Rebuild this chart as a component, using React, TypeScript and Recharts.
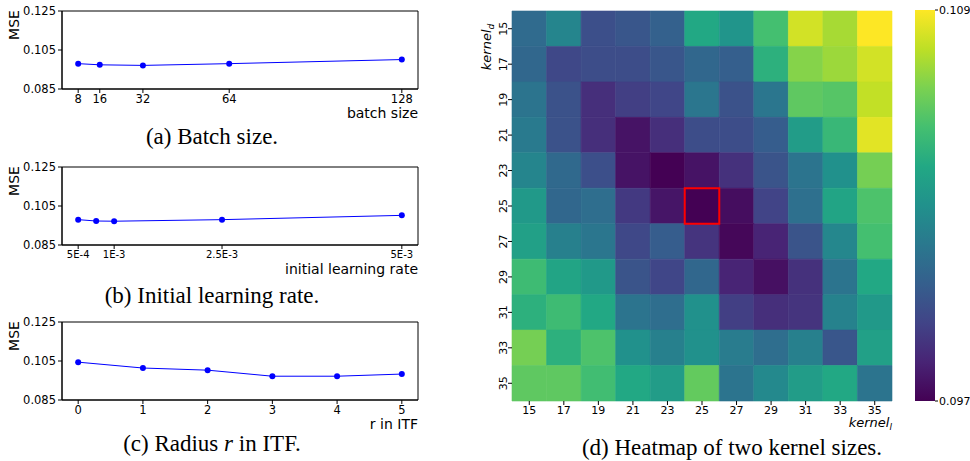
import React from 'react';
import {
  LineChart,
  Line,
  XAxis,
  YAxis,
  ReferenceArea,
  ScatterChart,
  Scatter,
  BarChart,
  Bar,
} from 'recharts';

const FONT = 'DejaVu Sans';
const SERIF = "'Liberation Serif', 'Times New Roman', serif";

// (a) batch size
const batchSizes = [8, 16, 32, 64, 128];
const batchMse = [0.098, 0.0974, 0.0971, 0.098, 0.1001];
// (b) initial learning rate
const learningRates = [0.0005, 0.00075, 0.001, 0.0025, 0.005];
const lrMse = [0.098, 0.0973, 0.0972, 0.098, 0.1002];
const lrTicks = [0.0005, 0.001, 0.0025, 0.005];
const lrTickLabels = ['5E-4', '1E-3', '2.5E-3', '5E-3'];
// (c) radius r in ITF
const radii = [0, 1, 2, 3, 4, 5];
const radiusMse = [0.1044, 0.1014, 0.1003, 0.0972, 0.0972, 0.0983];

const mseTicks = [0.085, 0.105, 0.125];

// (d) heatmap, rows = kernel_d, cols = kernel_l
const kernelD = [15, 17, 19, 21, 23, 25, 27, 29, 31, 33, 35];
const kernelL = [15, 17, 19, 21, 23, 25, 27, 29, 31, 33, 35];
const heatmapMse = [
  [0.1012, 0.1024, 0.0999, 0.1002, 0.1007, 0.1042, 0.1032, 0.1054, 0.1082, 0.1074, 0.109],
  [0.101, 0.0996, 0.0998, 0.0998, 0.1002, 0.101, 0.1006, 0.1046, 0.1068, 0.1072, 0.1082],
  [0.1016, 0.1, 0.0986, 0.0992, 0.0995, 0.1017, 0.1, 0.1017, 0.106, 0.1058, 0.1079],
  [0.1019, 0.1, 0.0986, 0.0976, 0.0986, 0.0998, 0.0998, 0.1005, 0.1036, 0.105, 0.1085],
  [0.1024, 0.1011, 0.0999, 0.0976, 0.097, 0.0976, 0.0987, 0.1001, 0.1016, 0.103, 0.1065],
  [0.1034, 0.101, 0.1013, 0.099, 0.0977, 0.097, 0.0974, 0.0994, 0.1014, 0.104, 0.1056],
  [0.1038, 0.1022, 0.1017, 0.0996, 0.1005, 0.0988, 0.0972, 0.0982, 0.1001, 0.1025, 0.1054],
  [0.1052, 0.104, 0.1034, 0.1001, 0.0995, 0.101, 0.0982, 0.0975, 0.0987, 0.1016, 0.1042],
  [0.1046, 0.1052, 0.1042, 0.1016, 0.1013, 0.103, 0.0992, 0.0986, 0.0988, 0.1023, 0.1034],
  [0.1065, 0.1046, 0.1056, 0.103, 0.1022, 0.103, 0.102, 0.1013, 0.1022, 0.1002, 0.1038],
  [0.106, 0.106, 0.1053, 0.1042, 0.1036, 0.1061, 0.1016, 0.1026, 0.1036, 0.1042, 0.1016],
];
const colorTicks = [0.097, 0.109];
const best = { d: 25, l: 25 };

const viridis = [
  '#440154', '#482475', '#414487', '#355f8d', '#2a788e', '#21918c',
  '#22a884', '#44bf70', '#7ad151', '#bddf26', '#fde725',
];

const hexToRgb = (h: string) => [1, 3, 5].map((i) => parseInt(h.slice(i, i + 2), 16));

const colorFor = (v: number) => {
  const t = Math.max(0, Math.min(1, (v - colorTicks[0]) / (colorTicks[1] - colorTicks[0])));
  const pos = t * (viridis.length - 1);
  const i = Math.min(Math.floor(pos), viridis.length - 2);
  const f = pos - i;
  const a = hexToRgb(viridis[i]);
  const b = hexToRgb(viridis[i + 1]);
  const c = a.map((x, k) => Math.round(x + (b[k] - x) * f));
  return `rgb(${c[0]},${c[1]},${c[2]})`;
};

const cells = kernelD.flatMap((d, r) =>
  kernelL.map((l, c) => ({ l, d, mse: heatmapMse[r][c] }))
);

const MseLabel = ({ viewBox }: any) => (
  <text
    transform={`translate(${viewBox.x + 7},${viewBox.y + 14}) rotate(-90)`}
    textAnchor="middle"
    fontSize={14}
    fontFamily={FONT}
    fill="#000"
  >
    MSE
  </text>
);

const RightLabel = ({ viewBox, text, dy }: any) => (
  <text
    x={viewBox.x + viewBox.width}
    y={viewBox.y + dy}
    textAnchor="end"
    fontSize={14}
    fontFamily={FONT}
    fill="#000"
  >
    {text}
  </text>
);

type SubplotProps = {
  top: number;
  xs: number[];
  ys: number[];
  domain: [number, number];
  ticks: number[];
  fmt?: (v: number) => string;
  xLabel: string;
  tickFont: number;
};

const Subplot = ({ top, xs, ys, domain, ticks, fmt, xLabel, tickFont }: SubplotProps) => {
  const data = xs.map((x, i) => ({ x, mse: ys[i] }));
  return (
    <div style={{ position: 'absolute', left: 0, top }}>
      <LineChart width={430} height={122} data={data} margin={{ top: 11, right: 12, left: 12, bottom: 0 }}>
        <XAxis
          dataKey="x"
          type="number"
          domain={domain}
          ticks={ticks}
          interval={0}
          tickFormatter={fmt}
          height={33}
          tickSize={4}
          tickMargin={2}
          tick={{ fontSize: tickFont, fill: '#000', fontFamily: FONT }}
          stroke="#000"
          label={{ content: (p: any) => <RightLabel {...p} text={xLabel} dy={29} /> }}
        />
        <YAxis
          type="number"
          domain={[0.085, 0.125]}
          ticks={mseTicks}
          interval={0}
          tickFormatter={(v: number) => v.toFixed(3)}
          width={50}
          tickSize={4}
          tickMargin={2}
          tick={{ fontSize: 11.5, fill: '#000', fontFamily: FONT }}
          stroke="#000"
          label={{ content: (p: any) => <MseLabel {...p} /> }}
        />
        <ReferenceArea
          x1={domain[0]}
          x2={domain[1]}
          y1={0.085}
          y2={0.125}
          fill="none"
          stroke="#000"
          strokeWidth={1}
          ifOverflow="visible"
        />
        <Line
          type="linear"
          dataKey="mse"
          stroke="#0000ff"
          strokeWidth={1}
          dot={{ r: 3, fill: '#0000ff', stroke: '#0000ff', strokeWidth: 0 }}
          isAnimationActive={false}
        />
      </LineChart>
    </div>
  );
};

const RotatedTick = ({ x, y, payload }: any) => (
  <text
    transform={`translate(${x},${y}) rotate(-90)`}
    textAnchor="middle"
    fontSize={11}
    fontFamily={FONT}
    fill="#000"
  >
    {payload.value}
  </text>
);

const KernelDLabel = ({ viewBox }: any) => (
  <text
    transform={`translate(${viewBox.x + 21},${viewBox.y + 36}) rotate(-90)`}
    textAnchor="middle"
    fontSize={13}
    fontFamily={FONT}
    fontStyle="italic"
    fill="#000"
  >
    kernel
    <tspan fontSize={9} dy={3}>d</tspan>
  </text>
);

const KernelLLabel = ({ viewBox }: any) => (
  <text
    x={viewBox.x + viewBox.width}
    y={viewBox.y + 26}
    textAnchor="end"
    fontSize={13}
    fontFamily={FONT}
    fontStyle="italic"
    fill="#000"
  >
    kernel
    <tspan fontSize={9} dy={3}>l</tspan>
  </text>
);

const Heatmap = () => (
  <div style={{ position: 'absolute', left: 470, top: 0 }}>
    <ScatterChart width={430} height={440} margin={{ top: 11, right: 8, left: 0, bottom: 0 }}>
      <XAxis
        dataKey="l"
        type="number"
        domain={[14, 36]}
        ticks={kernelL}
        interval={0}
        height={39}
        axisLine={false}
        tickSize={4}
        tickMargin={1}
        tick={{ fontSize: 11, fill: '#000', fontFamily: FONT }}
        stroke="#000"
        label={{ content: (p: any) => <KernelLLabel {...p} /> }}
      />
      <YAxis
        dataKey="d"
        type="number"
        domain={[14, 36]}
        reversed
        ticks={kernelD}
        interval={0}
        width={42}
        axisLine={false}
        tickSize={4}
        tickMargin={1}
        tick={<RotatedTick />}
        stroke="#000"
        label={{ content: (p: any) => <KernelDLabel {...p} /> }}
      />
      {cells.map((c) => (
        <ReferenceArea
          key={`${c.d}-${c.l}`}
          x1={c.l - 1}
          x2={c.l + 1}
          y1={c.d - 1}
          y2={c.d + 1}
          fill={colorFor(c.mse)}
          fillOpacity={1}
          stroke={colorFor(c.mse)}
          strokeWidth={0.6}
          ifOverflow="visible"
        />
      ))}
      <ReferenceArea
        x1={best.l - 1}
        x2={best.l + 1}
        y1={best.d - 1}
        y2={best.d + 1}
        fill="none"
        stroke="#ff0000"
        strokeWidth={2}
        ifOverflow="visible"
      />
      <Scatter data={cells} shape={() => <g />} isAnimationActive={false} />
    </ScatterChart>
  </div>
);

const colorBarData = [{ name: 'mse', range: colorTicks }];

const ColorBar = () => (
  <div style={{ position: 'absolute', left: 905, top: 0 }}>
    <BarChart
      width={65}
      height={420}
      data={colorBarData}
      margin={{ top: 10, right: 0, left: 10, bottom: 19 }}
      barCategoryGap="0%"
    >
      <defs>
        <linearGradient id="viridisGrad" x1="0" y1="1" x2="0" y2="0">
          {viridis.map((c, i) => (
            <stop key={c} offset={`${(i / (viridis.length - 1)) * 100}%`} stopColor={c} />
          ))}
        </linearGradient>
      </defs>
      <XAxis dataKey="name" hide />
      <YAxis
        orientation="right"
        type="number"
        domain={colorTicks}
        ticks={colorTicks}
        interval={0}
        tickFormatter={(v: number) => v.toFixed(3)}
        width={35}
        axisLine={false}
        tickSize={3}
        tickMargin={1}
        tick={{ fontSize: 11, fill: '#000', fontFamily: FONT }}
        stroke="#000"
      />
      <Bar dataKey="range" fill="url(#viridisGrad)" isAnimationActive={false} />
    </BarChart>
  </div>
);

const capStyle = { fontFamily: SERIF, fontSize: 23 };

const Captions = () => (
  <svg
    width={970}
    height={461}
    style={{ position: 'absolute', left: 0, top: 0, pointerEvents: 'none' }}
  >
    <text x={212} y={144} textAnchor="middle" style={capStyle}>(a) Batch size.</text>
    <text x={212} y={303} textAnchor="middle" style={capStyle}>(b) Initial learning rate.</text>
    <text x={212} y={451} textAnchor="middle" style={capStyle}>
      (c) Radius <tspan fontStyle="italic">r</tspan> in ITF.
    </text>
    <text x={732} y={455} textAnchor="middle" style={capStyle}>(d) Heatmap of two kernel sizes.</text>
  </svg>
);

const App = () => (
  <div style={{ position: 'fixed', left: 0, top: 0, width: 970, height: 461, background: '#fff' }}>
    <Subplot
      top={0}
      xs={batchSizes}
      ys={batchMse}
      domain={[2, 134]}
      ticks={batchSizes}
      xLabel="batch size"
      tickFont={11.5}
    />
    <Subplot
      top={156}
      xs={learningRates}
      ys={lrMse}
      domain={[0.000275, 0.005225]}
      ticks={lrTicks}
      fmt={(v: number) => lrTickLabels[lrTicks.indexOf(v)] ?? ''}
      xLabel="initial learning rate"
      tickFont={10}
    />
    <Subplot
      top={311}
      xs={radii}
      ys={radiusMse}
      domain={[-0.25, 5.25]}
      ticks={radii}
      xLabel="r in ITF"
      tickFont={11.5}
    />
    <Heatmap />
    <ColorBar />
    <Captions />
  </div>
);

export default App;
